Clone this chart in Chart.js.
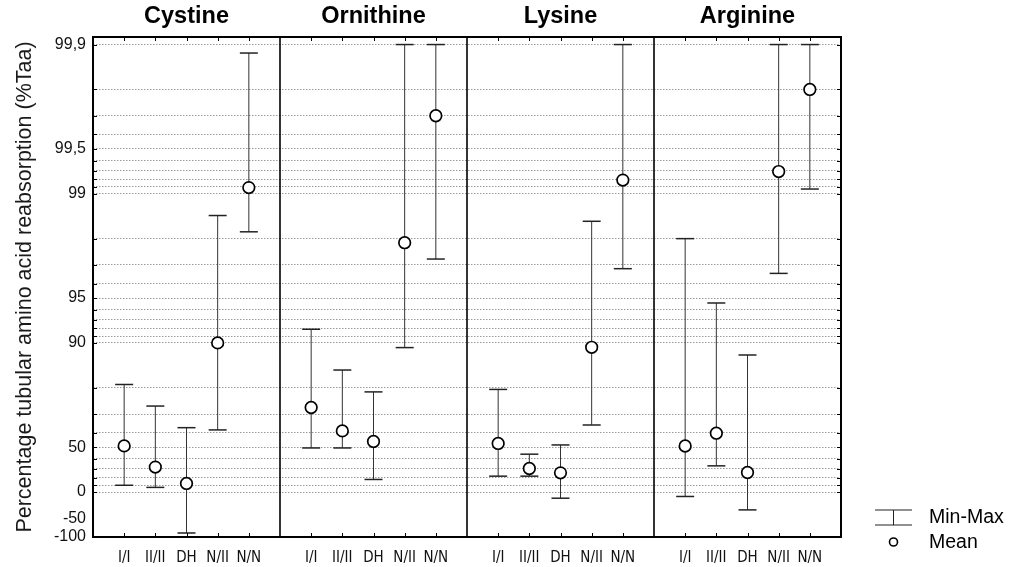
<!DOCTYPE html>
<html>
<head>
<meta charset="utf-8">
<title>Tubular amino acid reabsorption</title>
<script src="https://cdn.jsdelivr.net/npm/chart.js@4/dist/chart.umd.min.js"></script>
<style>
    html, body { margin:0; padding:0; background:#fff; }
    #wrap { position:relative; width:1018px; height:567px; }
</style>
</head>
<body>
<div id="wrap"><canvas id="taaChart" width="1018" height="567"></canvas></div>
<script>
/* ==========================================================
   DATA  (values in % tubular reabsorption)
========================================================== */

const panels = ["Cystine", "Ornithine", "Lysine", "Arginine"];

const groups = ["I/I", "II/II", "DH", "N/II", "N/N"];

const cystineMean = [51, 32, 12.5, 90, 99.09];
const cystineMin  = [10, 7, -88, 61.7, 98.2];
const cystineMax  = [81, 73.5, 63, 98.6, 99.886];

const ornithineMean = [72.9, 61.1, 54.2, 97.87, 99.7];
const ornithineMin  = [49.4, 49.4, 17.7, 89.25, 97.26];
const ornithineMax  = [91.9, 84.8, 78.7, 99.9, 99.9];

const lysineMean = [52.8, 30.5, 25.7, 89.3, 99.19];
const lysineMin  = [21.8, 21.8, -9.9, 64.5, 96.82];
const lysineMax  = [79.5, 44.3, 51.7, 98.47, 99.9];

const arginineMean = [50.9, 59.7, 26.1, 99.29, 99.8];
const arginineMin  = [-7, 33.3, -31.6, 96.58, 99.07];
const arginineMax  = [98.0, 94.6, 87.95, 99.9, 99.9];

// labelled ticks on the y axis
const yLabelValues = [99.9, 99.5, 99, 95, 90, 50, 0, -50, -100];
const yLabelTexts  = ["99,9", "99,5", "99", "95", "90", "50", "0", "-50", "-100"];

const yTitle = "Percentage tubular amino acid reabsorption (%Taa)";


/* ==========================================================
   HELPERS
========================================================== */

// the axis is logarithmic in (100 - %), reversed
function toScale(p){
    return 100 - p;
}

// dotted grid lines: 99,9 ... 99 / 99 ... 90 / 90 ... 0
function gridPercents(){
    const out = [];
    [0.1, 1, 10].forEach(function(decade){
        for(let k = 1; k <= 9; k++){
            out.push(100 - k * decade);
        }
    });
    out.push(0);
    return out;
}

function labelFor(value){
    for(let i = 0; i < yLabelValues.length; i++){
        if(Math.abs(toScale(yLabelValues[i]) - value) < 1e-6){
            return yLabelTexts[i];
        }
    }
    return "";
}

const meanSets = [cystineMean, ornithineMean, lysineMean, arginineMean];
const minSets  = [cystineMin, ornithineMin, lysineMin, arginineMin];
const maxSets  = [cystineMax, ornithineMax, lysineMax, arginineMax];

const meanPoints = [];
const rangePoints = [];

panels.forEach(function(name, p){
    groups.forEach(function(g, i){
        const x = p * 6 + i + 1;
        meanPoints.push({ x:x, y:toScale(meanSets[p][i]) });
        rangePoints.push({ x:x, y:toScale(minSets[p][i]) });
        rangePoints.push({ x:x, y:toScale(maxSets[p][i]) });
        rangePoints.push({ x:x, y:null });
    });
});


/* ==========================================================
   FRAME, PANELS, TITLES, LEGEND
========================================================== */

const framePlugin = {

    id:"frame",

    afterDatasetsDraw(chart){

        const ctx = chart.ctx;
        const area = chart.chartArea;
        const xs = chart.scales.x;
        const ys = chart.scales.y;

        ctx.save();
        ctx.strokeStyle = "#000";

        // inward tick marks on the category positions
        ctx.lineWidth = 1;
        panels.forEach(function(name, p){
            groups.forEach(function(g, i){
                const px = Math.round(xs.getPixelForValue(p * 6 + i + 1)) + 0.5;
                ctx.beginPath();
                ctx.moveTo(px, area.top);
                ctx.lineTo(px, area.top + 4);
                ctx.moveTo(px, area.bottom);
                ctx.lineTo(px, area.bottom - 4);
                ctx.stroke();
            });
        });

        // inward tick marks on the grid lines
        gridPercents().forEach(function(p){
            const py = Math.round(ys.getPixelForValue(toScale(p))) + 0.5;
            ctx.beginPath();
            ctx.moveTo(area.left, py);
            ctx.lineTo(area.left + 4, py);
            ctx.moveTo(area.right, py);
            ctx.lineTo(area.right - 4, py);
            ctx.stroke();
        });

        // panel dividers
        ctx.lineWidth = 1.6;
        [6, 12, 18].forEach(function(v){
            const px = xs.getPixelForValue(v);
            ctx.beginPath();
            ctx.moveTo(px, area.top);
            ctx.lineTo(px, area.bottom);
            ctx.stroke();
        });

        // outer box
        ctx.lineWidth = 2;
        ctx.strokeRect(area.left, area.top, area.right - area.left, area.bottom - area.top);

        // panel titles
        ctx.fillStyle = "#000";
        ctx.font = "bold 23.5px 'Liberation Sans', Arial, sans-serif";
        ctx.textAlign = "center";
        ctx.textBaseline = "middle";
        panels.forEach(function(name, p){
            const cx = xs.getPixelForValue(p * 6 + 3);
            ctx.fillText(name, cx, 17);
        });

        // legend
        const lx = area.right + 34;
        const ly = area.bottom - 27;
        ctx.lineWidth = 1;
        ctx.strokeStyle = "#222";
        ctx.beginPath();
        ctx.moveTo(lx, ly);
        ctx.lineTo(lx + 37, ly);
        ctx.moveTo(lx, ly + 15);
        ctx.lineTo(lx + 37, ly + 15);
        ctx.moveTo(lx + 18.5, ly);
        ctx.lineTo(lx + 18.5, ly + 15);
        ctx.stroke();

        ctx.lineWidth = 1.6;
        ctx.strokeStyle = "#000";
        ctx.beginPath();
        ctx.arc(lx + 18.5, ly + 32, 4, 0, Math.PI * 2);
        ctx.stroke();

        ctx.font = "19.5px 'Liberation Sans', Arial, sans-serif";
        ctx.textAlign = "left";
        ctx.fillText("Min-Max", lx + 54, ly + 8);
        ctx.fillText("Mean", lx + 54, ly + 33);

        ctx.restore();

    }

};


/* ==========================================================
   CHART
========================================================== */

const ctx = document.getElementById("taaChart").getContext("2d");

const taaChart = new Chart(ctx, {

    type:"scatter",

    data:{
        datasets:[
            {
                label:"Mean",
                data:meanPoints,
                pointStyle:"circle",
                pointRadius:5.8,
                pointBorderWidth:1.7,
                pointBorderColor:"#000",
                pointBackgroundColor:"#fff",
                showLine:false
            },
            {
                label:"Min-Max",
                type:"line",
                data:rangePoints,
                borderColor:"#333",
                borderWidth:1,
                spanGaps:false,
                pointStyle:"line",
                pointRadius:9,
                pointBorderWidth:1.5,
                pointBorderColor:"#222",
                fill:false
            }
        ]
    },

    options:{

        responsive:false,
        animation:false,
        events:[],

        layout:{
            padding:{ left:4, right:177, top:37, bottom:0 }
        },

        plugins:{
            legend:{ display:false },
            tooltip:{ enabled:false }
        },

        scales:{

            x:{
                type:"linear",
                min:0,
                max:24,
                grid:{ display:false },
                border:{ display:false },
                afterBuildTicks:function(scale){
                    const t = [];
                    panels.forEach(function(name, p){
                        groups.forEach(function(g, i){
                            t.push({ value:p * 6 + i + 1 });
                        });
                    });
                    scale.ticks = t;
                },
                afterFit:function(scale){
                    scale.height = 30;
                },
                ticks:{
                    autoSkip:false,
                    maxRotation:0,
                    padding:4,
                    color:"#111",
                    font:{ family:"'Liberation Sans Narrow', 'DejaVu Sans Condensed', 'Liberation Sans', Arial", size:15 },
                    callback:function(value){
                        return groups[(value % 6) - 1];
                    }
                }
            },

            y:{
                type:"logarithmic",
                reverse:true,
                min:0.089,
                max:200,
                afterBuildTicks:function(scale){
                    const t = gridPercents().map(function(p){
                        return { value:toScale(p) };
                    });
                    t.push({ value:150 });
                    t.push({ value:200 });
                    scale.ticks = t;
                },
                afterFit:function(scale){
                    scale.width = 89;
                },
                grid:{
                    drawTicks:false,
                    lineWidth:1,
                    color:function(c){
                        return c.tick && c.tick.value > 100 ? "rgba(0,0,0,0)" : "#9a9a9a";
                    }
                },
                border:{ display:false, dash:[1.5, 1.5] },
                title:{
                    display:true,
                    text:yTitle,
                    color:"#1a1a1a",
                    padding:{ top:8, bottom:0 },
                    font:{ family:"'Liberation Sans', Arial", size:21.5 }
                },
                ticks:{
                    autoSkip:false,
                    padding:7,
                    color:"#111",
                    font:{ family:"'Liberation Sans', Arial", size:16 },
                    callback:function(value){
                        return labelFor(value);
                    }
                }
            }

        }

    },

    plugins:[framePlugin]

});
</script>
</body>
</html>
